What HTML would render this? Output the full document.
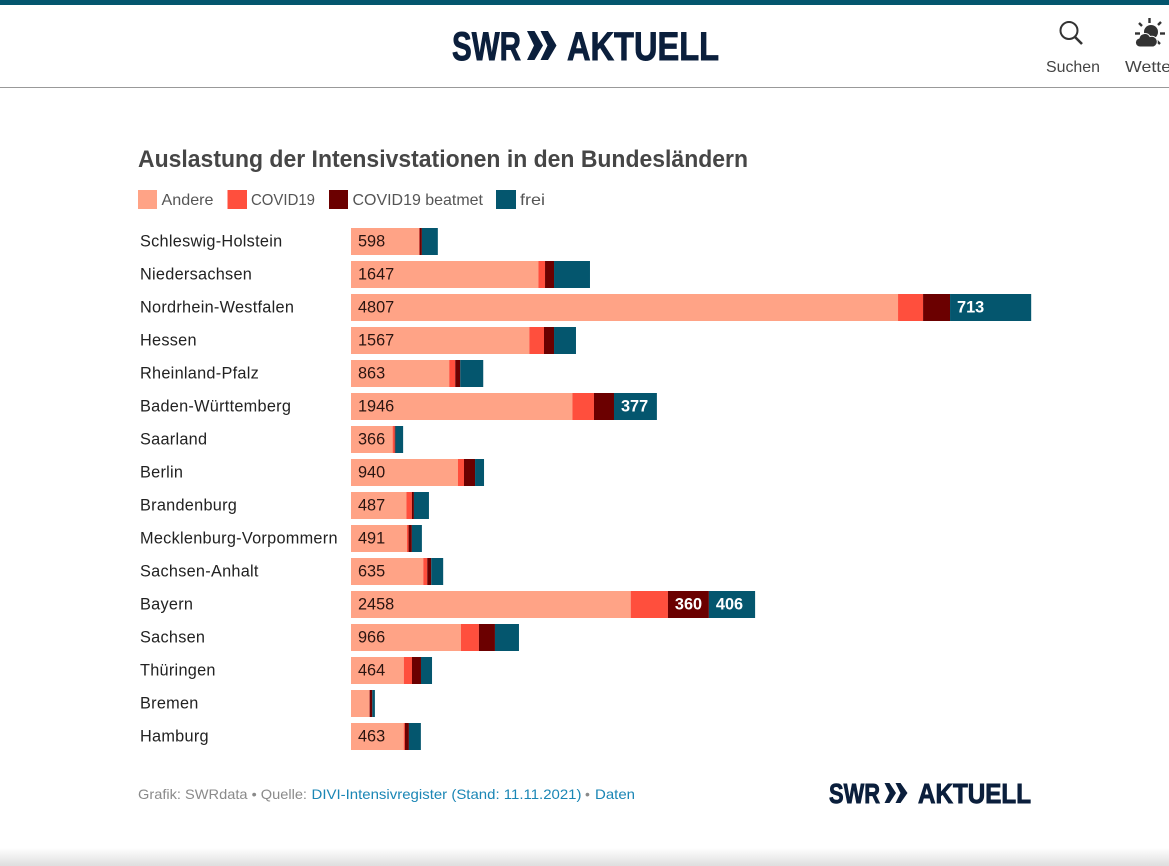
<!DOCTYPE html>
<html lang="de">
<head>
<meta charset="utf-8">
<title>Auslastung der Intensivstationen in den Bundesländern</title>
<style>
html,body{margin:0;padding:0;background:#fff;width:1169px;height:866px;overflow:hidden}
svg{display:block;font-family:"Liberation Sans",sans-serif}
.lab{font-size:16.3px;fill:#222;letter-spacing:.27px}
.val{font-size:16.3px;fill:#2a1410}
.valw{font-size:16.3px;fill:#fff;font-weight:bold}
.logo text{stroke:#0b1f3c;stroke-width:.9px}
</style>
</head>
<body>
<svg id="page" width="1169" height="866" viewBox="0 0 1169 866" xmlns="http://www.w3.org/2000/svg">
  <defs>
    <linearGradient id="bottomFade" x1="0" y1="0" x2="0" y2="1">
      <stop offset="0" stop-color="#ffffff"/>
      <stop offset="1" stop-color="#dedede"/>
    </linearGradient>
  </defs>
  <rect x="0" y="0" width="1169" height="5" fill="#04566e"/>
  <rect x="0" y="87" width="1169" height="1" fill="#999999"/>

  <g class="logo" fill="#0b1f3c">
    <text x="452" y="60" font-size="40" font-weight="bold" textLength="69" lengthAdjust="spacingAndGlyphs">SWR</text>
    <polygon points="527,31 534.500,31 543,45.500 534.500,60 527,60 534,45.500"/>
    <polygon points="540.500,31 548,31 556.500,45.500 548,60 540.500,60 547.500,45.500"/>
    <text x="567" y="60" font-size="40" font-weight="bold" textLength="152" lengthAdjust="spacingAndGlyphs">AKTUELL</text>
  </g>

  <g>
    <g fill="none" stroke="#333" stroke-width="2">
      <circle cx="1069" cy="30.500" r="8.500"/>
      <line x1="1075" y1="37" x2="1082" y2="44" stroke-width="2.600"/>
    </g>
    <text x="1046" y="72" font-size="16" fill="#444" textLength="54" lengthAdjust="spacingAndGlyphs">Suchen</text>
  </g>
  <g>
    <g fill="#333">
      <circle cx="1151" cy="32" r="7"/>
      <g stroke="#333" stroke-width="2.400">
        <line x1="1149.500" y1="18" x2="1149.500" y2="23"/>
        <line x1="1139" y1="23" x2="1142" y2="26"/>
        <line x1="1161" y1="22" x2="1158" y2="25"/>
        <line x1="1135" y1="33.500" x2="1140" y2="33.500"/>
        <line x1="1160" y1="33.500" x2="1165" y2="33.500"/>
        <line x1="1157" y1="41" x2="1160" y2="44"/>
      </g>
      <path d="M1140 47 a4.500 4.500 0 0 1 -1 -8.900 a6 6 0 0 1 11 -1.600 a5 5 0 0 1 3.500 10.500 z" stroke="#fff" stroke-width="1"/>
    </g>
    <text x="1125" y="72" font-size="16" fill="#444" textLength="52" lengthAdjust="spacingAndGlyphs">Wetter</text>
  </g>

  <text x="138" y="167" font-size="24" font-weight="bold" fill="#464646" textLength="610" lengthAdjust="spacingAndGlyphs">Auslastung der Intensivstationen in den Bundesländern</text>

  <g font-size="16" fill="#555">
    <g>
      <rect x="138" y="190" width="19" height="19" fill="#ffa386"/>
      <text x="161.500" y="205" textLength="52" lengthAdjust="spacingAndGlyphs">Andere</text>
    </g>
    <g>
      <rect x="227.500" y="190" width="19.500" height="19" fill="#ff4f3d"/>
      <text x="251" y="205" textLength="64" lengthAdjust="spacingAndGlyphs">COVID19</text>
    </g>
    <g>
      <rect x="329" y="190" width="19" height="19" fill="#6b0000"/>
      <text x="352.500" y="205" textLength="130.500" lengthAdjust="spacingAndGlyphs">COVID19 beatmet</text>
    </g>
    <g>
      <rect x="496" y="190" width="20" height="19" fill="#04566e"/>
      <text x="520" y="205" textLength="25" lengthAdjust="spacingAndGlyphs">frei</text>
    </g>
  </g>

  <g id="chart"></g>

  <g font-size="14">
    <text x="138" y="799" fill="#8a8a8a" textLength="169" lengthAdjust="spacingAndGlyphs">Grafik: SWRdata • Quelle:</text>
    <text x="311.500" y="799" fill="#1a86b5" textLength="270" lengthAdjust="spacingAndGlyphs">DIVI-Intensivregister (Stand: 11.11.2021)</text>
    <text x="585" y="799" fill="#8a8a8a">•</text>
    <text x="595" y="799" fill="#1a86b5" textLength="40" lengthAdjust="spacingAndGlyphs">Daten</text>
  </g>

  <g class="logo" fill="#0b1f3c">
    <text x="829" y="803" font-size="28" font-weight="bold" textLength="51" lengthAdjust="spacingAndGlyphs">SWR</text>
    <polygon points="884.500,783 889.500,783 896,793 889.500,803 884.500,803 889.500,793"/>
    <polygon points="895.500,783 900.500,783 907.500,793 900.500,803 895.500,803 900.500,793"/>
    <text x="918" y="803" font-size="28" font-weight="bold" textLength="113" lengthAdjust="spacingAndGlyphs">AKTUELL</text>
  </g>

  <rect x="0" y="848" width="1169" height="18" fill="url(#bottomFade)"/>
</svg>

<script>
const categories = ["Schleswig-Holstein","Niedersachsen","Nordrhein-Westfalen","Hessen","Rheinland-Pfalz","Baden-Württemberg","Saarland","Berlin","Brandenburg","Mecklenburg-Vorpommern","Sachsen-Anhalt","Bayern","Sachsen","Thüringen","Bremen","Hamburg"];
const andere = [598,1647,4807,1567,863,1946,366,940,487,491,635,2458,966,464,161,463];
const covid19 = [5,58,220,129,53,189,18,53,48,15,35,327,158,72,3,11];
const beatmet = [20,79,237,88,44,176,6,97,18,29,35,360,141,79,23,35];
const frei = [140,316,713,193,202,377,68,79,132,88,105,406,211,97,23,105];
const seriesNames = ["andere","covid19","beatmet","frei"];
const seriesValues = [andere,covid19,beatmet,frei];
const seriesColors = ["#ffa386","#ff4f3d","#6b0000","#04566e"];
const labelClasses = ["val","val","valw","valw"];
const labelMinimum = 350;

const NS = "http://www.w3.org/2000/svg";
const chart = document.getElementById("chart");
const xOrigin = 351, pxPerUnit = 0.1138;
const rowTop = 228, rowStep = 33, barHeight = 27;
function xLen(v){ return v * pxPerUnit; }
function xPos(v){ return xOrigin + xLen(v); }
function yPos(i){ return rowTop + i * rowStep; }

categories.forEach(function(name, i){
  const row = document.createElementNS(NS, "g");
  
  
  chart.appendChild(row);

  const label = document.createElementNS(NS, "text");
  
  
  label.setAttribute("class", "lab");
  label.setAttribute("x", 140);
  label.setAttribute("y", yPos(i) + 18.5);
  label.textContent = name;
  row.appendChild(label);

  let cumulative = 0;
  seriesValues.forEach(function(values, s){
    const v = values[i];
    const bar = document.createElementNS(NS, "rect");
    
    
    bar.setAttribute("x", xPos(cumulative));
    bar.setAttribute("y", yPos(i));
    bar.setAttribute("width", xLen(v));
    bar.setAttribute("height", barHeight);
    bar.setAttribute("fill", seriesColors[s]);
    row.appendChild(bar);
    if (v >= labelMinimum) {
      const t = document.createElementNS(NS, "text");
      
      
      t.setAttribute("class", labelClasses[s]);
      t.setAttribute("x", xPos(cumulative) + 7);
      t.setAttribute("y", yPos(i) + 18.5);
      t.textContent = v;
      row.appendChild(t);
    }
    cumulative += v;
  });
});
</script>
</body>
</html>
